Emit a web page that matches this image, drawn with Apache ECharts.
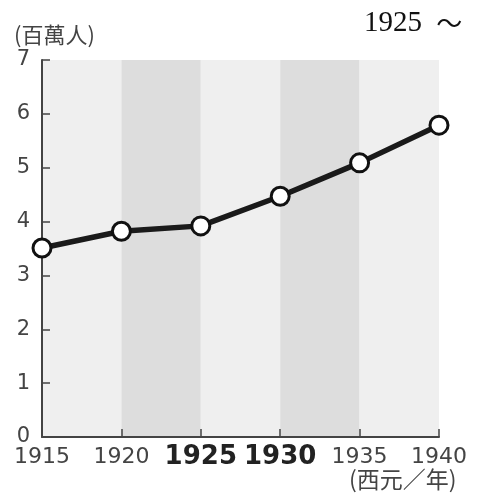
<!DOCTYPE html>
<html><head><meta charset="utf-8">
<script src="https://cdn.jsdelivr.net/npm/echarts@6/dist/echarts.min.js"></script>
<style>html,body{margin:0;padding:0;background:#fff}#c{width:481px;height:497px}</style>
</head><body><div id="c"></div>
<script>
const years = [1915, 1920, 1925, 1930, 1935, 1940];
const population = [3.51, 3.82, 3.92, 4.47, 5.09, 5.79];
const boldYears = [1925, 1930];
const yTicks = [0, 1, 2, 3, 4, 5, 6, 7];

const chart = echarts.init(document.getElementById('c'));
chart.setOption({
  animation: false,
  backgroundColor: '#fff',
  grid: {left: 42, right: 42, top: 60, bottom: 60},
  graphic: [
    {type: 'text', left: 14, top: 24, style: {text: '(百萬人)', font: '22px "Noto Sans CJK TC"', fill: '#444'}},
    {type: 'text', left: 349, top: 468, style: {text: '(西元／年)', font: '23px "Noto Sans CJK TC"', fill: '#444'}},
    {type: 'text', left: 364, top: 9, style: {rich: {
      a: {font: '29px "Liberation Serif"', fill: '#111'},
      t: {font: '26px "Noto Sans CJK JP"', fill: '#111', padding: [0, 0, 0, 7]}
    }, text: '{a|1925 }{t|～}'}}
  ],
  xAxis: {
    type: 'value', min: 1915, max: 1940, interval: 5,
    axisLine: {show: true, lineStyle: {color: '#444', width: 2}},
    axisTick: {show: true, inside: true, length: 8, lineStyle: {color: '#444', width: 1.5}},
    splitLine: {show: false},
    splitArea: {show: true, areaStyle: {color: ['#efefef', '#dddddd']}},
    axisLabel: {
      margin: 20,
      verticalAlign: 'middle',
      formatter: v => boldYears.includes(v) ? '{b|' + v + '}' : '{n|' + v + '}',
      rich: {
        n: {fontSize: 22, color: '#444', fontFamily: 'DejaVu Sans', verticalAlign: 'middle'},
        b: {fontSize: 26, color: '#222', fontWeight: 'bold', fontFamily: 'DejaVu Sans', verticalAlign: 'middle'}
      }
    }
  },
  yAxis: {
    type: 'value', min: 0, max: 7, interval: 1,
    axisLine: {show: true, lineStyle: {color: '#444', width: 2}},
    axisTick: {show: true, inside: true, length: 8, lineStyle: {color: '#444', width: 1.5}},
    splitLine: {show: false},
    axisLabel: {margin: 12, fontSize: 21, color: '#444', fontFamily: 'DejaVu Sans',
      formatter: v => yTicks.includes(v) ? String(v) : ''}
  },
  series: [{
    type: 'line',
    data: years.map((y, i) => [y, population[i]]),
    lineStyle: {color: '#1a1a1a', width: 5.5},
    symbol: 'circle', symbolSize: 18,
    itemStyle: {color: '#fff', borderColor: '#111', borderWidth: 3},
    z: 5
  }]
});
</script></body></html>
